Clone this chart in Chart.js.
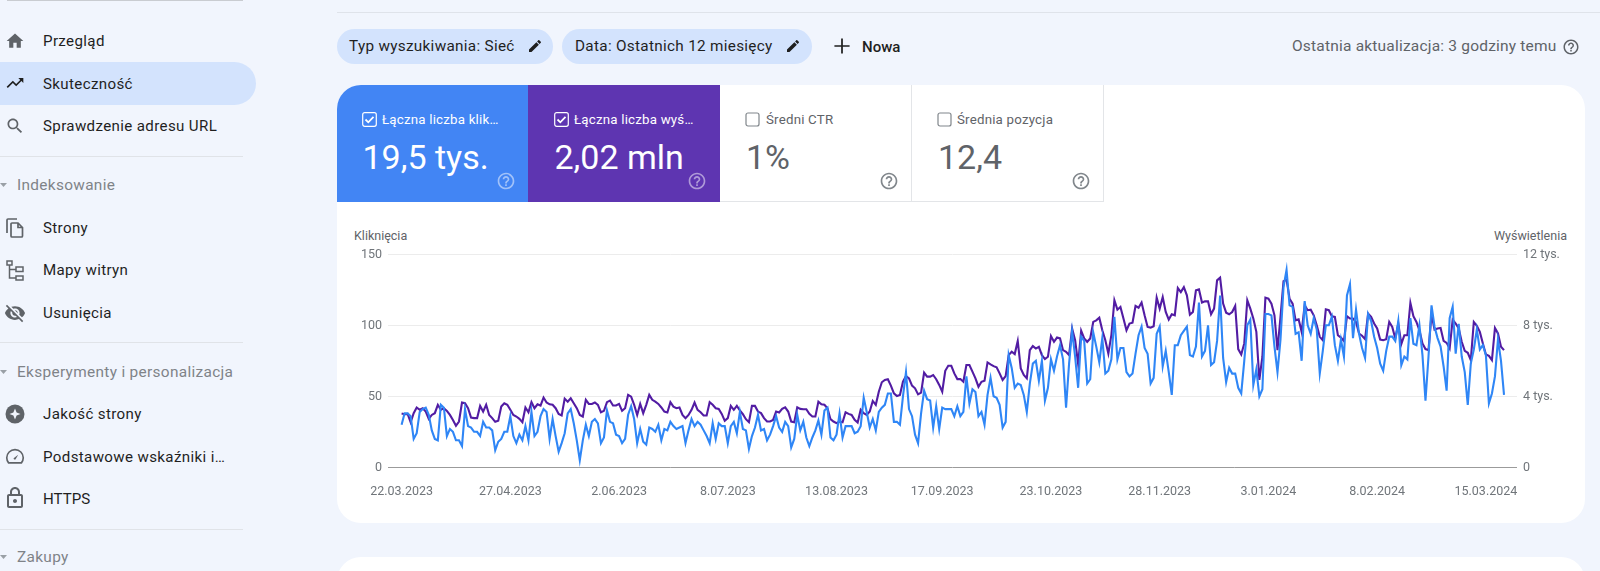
<!DOCTYPE html>
<html lang="pl"><head><meta charset="utf-8"><title>Skuteczność</title>
<script src="https://cdn.jsdelivr.net/npm/chart.js@4/dist/chart.umd.min.js"></script>
<style>
html,body{margin:0;padding:0;width:1600px;height:571px;overflow:hidden;background:#f1f5fd;font-family:Roboto,sans-serif}
.t{position:absolute;white-space:nowrap;line-height:1;transform:translateY(-50%)}
.nav{left:43px;font-size:15.1px;letter-spacing:.36px;color:#1f1f1f;margin-top:1px}
.sec{left:17px;font-size:15.4px;letter-spacing:.32px;color:#7f8388;margin-top:1px}
.sep{position:absolute;left:0;width:243px;height:1px;background:#e0e3e8}
.ic{position:absolute;fill:#5f6368}
.chip{position:absolute;top:29px;height:35px;background:#d3e3fd;border-radius:18px}
.tile{position:absolute;top:85px;height:117px;box-sizing:border-box}
.lab{font-size:13.3px;letter-spacing:.2px}
.val{font-size:34px}
.axt{font-size:12.5px;color:#5f6368}
svg{display:block}
</style></head><body>
<div style="position:absolute;left:7px;top:0;width:236px;height:1px;background:#c9ccd1"></div>
<div style="position:absolute;left:337px;right:0;top:12px;height:1px;background:#dfe3ea"></div>
<div style="position:absolute;left:0;top:62px;width:256px;height:43px;background:#d3e3fd;border-radius:0 22px 22px 0"></div>

<svg class="ic" style="left:5px;top:31px" width="20" height="20" viewBox="0 0 24 24"><path d="M10 20v-6h4v6h5v-8h3L12 3 2 12h3v8z"/></svg>
<svg class="ic" style="left:5px;top:73px;fill:#1f1f1f" width="20" height="20" viewBox="0 0 24 24"><path d="M16 6l2.29 2.29-4.88 4.88-4-4L2 16.59 3.41 18l6-6 4 4 6.3-6.29L22 12V6z"/></svg>
<svg class="ic" style="left:5px;top:116px" width="20" height="20" viewBox="0 0 24 24"><path d="M15.5 14h-.79l-.28-.27C15.41 12.59 16 11.11 16 9.5 16 5.91 13.09 3 9.5 3S3 5.91 3 9.5 5.91 16 9.5 16c1.61 0 3.09-.59 4.23-1.57l.27.28v.79l5 4.99L20.49 19l-4.99-5zm-6 0C7.01 14 5 11.99 5 9.5S7.01 5 9.5 5 14 7.01 14 9.5 11.99 14 9.5 14z"/></svg>
<svg class="ic" style="left:3px;top:216px" width="24" height="24" viewBox="0 0 24 24"><path fill="none" stroke="#5f6368" stroke-width="1.7" d="M14 3H5c-.6 0-1 .4-1 1v13M9 7h6l4.5 4.5V20c0 .6-.4 1-1 1H9c-.6 0-1-.4-1-1V8c0-.6.4-1 1-1zM15 7v4.500h4.500"/></svg>
<svg class="ic" style="left:4px;top:258px" width="24" height="24" viewBox="0 0 24 24"><path fill="none" stroke="#5f6368" stroke-width="1.5" d="M3 3h5v4H3zM5.500 7v13h6M5.500 11.500h6M12 9h7v4.500h-7zM12 18h7v4h-7z"/></svg>
<svg class="ic" style="left:4px;top:302px" width="22" height="22" viewBox="0 0 24 24"><path d="M12 7c2.760 0 5 2.240 5 5 0 .65-.13 1.260-.36 1.830l2.920 2.920c1.510-1.260 2.700-2.890 3.430-4.750-1.730-4.390-6-7.500-11-7.500-1.400 0-2.740.25-3.980.7l2.160 2.160C10.740 7.130 11.350 7 12 7zM2 4.270l2.280 2.280.46.46C3.080 8.300 1.780 10.020 1 12c1.730 4.390 6 7.500 11 7.500 1.550 0 3.030-.3 4.380-.84l.42.42L19.730 22 21 20.730 3.270 3 2 4.270zM7.530 9.800l1.550 1.550c-.05.21-.08.43-.08.65 0 1.660 1.340 3 3 3 .22 0 .44-.03.65-.08l1.550 1.550c-.67.33-1.410.53-2.200.53-2.760 0-5-2.240-5-5 0-.79.2-1.530.53-2.200zm4.310-.78l3.150 3.150.02-.16c0-1.660-1.340-3-3-3l-.17.01z"/></svg>
<svg class="ic" style="left:3px;top:402px" width="24" height="24" viewBox="0 0 24 24"><circle cx="12" cy="12" r="9.500"/><path fill="#f1f5fd" d="M12 6.500l1.600 3.900 3.900 1.600-3.900 1.600-1.600 3.900-1.600-3.900-3.900-1.600 3.900-1.600z"/></svg>
<svg class="ic" style="left:4px;top:445px" width="22" height="22" viewBox="0 0 24 24"><path fill="none" stroke="#5f6368" stroke-width="1.800" d="M5 19.500h14c1.500-1.800 2-3.800 2-5.500a9 9 0 1 0-18 0c0 1.700.5 3.700 2 5.500z"/><path d="M10.500 14.500l5-4-3 5.200a1.300 1.300 0 0 1-2-1.200z"/></svg>
<svg class="ic" style="left:3px;top:486px" width="24" height="24" viewBox="0 0 24 24"><path d="M18 8h-1V6c0-2.760-2.240-5-5-5S7 3.240 7 6v2H6c-1.100 0-2 .9-2 2v10c0 1.100.9 2 2 2h12c1.100 0 2-.9 2-2V10c0-1.100-.9-2-2-2zM9 6c0-1.660 1.340-3 3-3s3 1.340 3 3v2H9V6zm9 14H6V10h12v10zm-6-3c1.100 0 2-.9 2-2s-.9-2-2-2-2 .9-2 2 .9 2 2 2z"/></svg>
<svg class="ic" style="left:0;top:183px;fill:#9aa0a6" width="7" height="4" viewBox="0 0 7 4"><path d="M0 0h7L3.500 4z"/></svg>
<svg class="ic" style="left:0;top:370px;fill:#9aa0a6" width="7" height="4" viewBox="0 0 7 4"><path d="M0 0h7L3.500 4z"/></svg>
<svg class="ic" style="left:0;top:555px;fill:#9aa0a6" width="7" height="4" viewBox="0 0 7 4"><path d="M0 0h7L3.500 4z"/></svg>

<span class="t nav" style="top:41px">Przegląd</span>
<span class="t nav" style="top:84px">Skuteczność</span>
<span class="t nav" style="top:126px">Sprawdzenie adresu URL</span>
<div class="sep" style="top:156px"></div>
<span class="t sec" style="top:185px">Indeksowanie</span>
<span class="t nav" style="top:228px">Strony</span>
<span class="t nav" style="top:270px">Mapy witryn</span>
<span class="t nav" style="top:313px">Usunięcia</span>
<div class="sep" style="top:342px"></div>
<span class="t sec" style="top:372px">Eksperymenty i personalizacja</span>
<span class="t nav" style="top:414px">Jakość strony</span>
<span class="t nav" style="top:457px">Podstawowe wskaźniki i…</span>
<span class="t nav" style="top:499px;letter-spacing:0">HTTPS</span>
<div class="sep" style="top:529px"></div>
<span class="t sec" style="top:557px">Zakupy</span>

<div class="chip" style="left:337px;width:216px"></div>
<span class="t" style="left:349px;top:47px;font-size:15.3px;letter-spacing:.3px;color:#1f1f1f">Typ wyszukiwania: Sieć</span>
<svg class="ic" style="left:527px;top:38px;fill:#1f1f1f" width="16" height="16" viewBox="0 0 24 24"><path d="M3 17.250V21h3.750L17.810 9.940l-3.750-3.750L3 17.250zM20.710 7.040c.39-.39.39-1.020 0-1.410l-2.340-2.340c-.39-.39-1.020-.39-1.410 0l-1.830 1.830 3.750 3.750 1.830-1.830z"/></svg>
<div class="chip" style="left:562px;width:250px"></div>
<span class="t" style="left:575px;top:47px;font-size:15.3px;letter-spacing:.3px;color:#1f1f1f">Data: Ostatnich 12 miesięcy</span>
<svg class="ic" style="left:785px;top:38px;fill:#1f1f1f" width="16" height="16" viewBox="0 0 24 24"><path d="M3 17.250V21h3.750L17.810 9.940l-3.750-3.750L3 17.250zM20.710 7.040c.39-.39.39-1.020 0-1.410l-2.340-2.340c-.39-.39-1.020-.39-1.410 0l-1.830 1.830 3.750 3.750 1.830-1.830z"/></svg>
<svg class="ic" style="left:829px;top:33px;fill:#1f1f1f" width="26" height="26" viewBox="0 0 24 24"><path d="M19 12.800h-6.200V19h-1.600v-6.200H5v-1.600h6.200V5h1.600v6.200H19z"/></svg>
<span class="t" style="left:862px;top:47px;font-size:15px;font-weight:500;color:#1f1f1f">Nowa</span>
<span class="t" style="left:1292px;top:47px;font-size:15.5px;letter-spacing:.2px;color:#5f6368">Ostatnia aktualizacja: 3 godziny temu</span>
<svg class="ic" style="left:1562px;top:38px" width="18" height="18" viewBox="0 0 24 24"><path d="M11 18h2v-2h-2v2zm1-16C6.480 2 2 6.480 2 12s4.480 10 10 10 10-4.480 10-10S17.520 2 12 2zm0 18c-4.410 0-8-3.590-8-8s3.590-8 8-8 8 3.590 8 8-3.590 8-8 8zm0-14c-2.210 0-4 1.790-4 4h2c0-1.100.9-2 2-2s2 .9 2 2c0 2-3 1.750-3 5h2c0-2.250 3-2.500 3-5 0-2.210-1.790-4-4-4z"/></svg>

<div style="position:absolute;left:337px;top:85px;width:1248px;height:438px;background:#fff;border-radius:24px"></div>
<div style="position:absolute;left:337px;top:557px;width:1248px;height:40px;background:#fff;border-radius:24px 24px 0 0"></div>

<div class="tile" style="left:337px;width:191px;background:#4285f4;border-radius:24px 0 0 0"></div>
<div class="tile" style="left:528px;width:192px;background:#5e35b1"></div>
<div class="tile" style="left:720px;width:192px;border-right:1px solid #e3e5e8;border-bottom:1px solid #e3e5e8"></div>
<div class="tile" style="left:912px;width:192px;border-right:1px solid #e3e5e8;border-bottom:1px solid #e3e5e8"></div>

<svg style="position:absolute;left:362px;top:112px" width="15" height="15" viewBox="0 0 15 15"><rect x=".7" y=".7" width="13.600" height="13.600" rx="2" fill="none" stroke="#fff" stroke-width="1.200"/><path d="M3.500 7.500l2.800 2.800 5.200-5.400" fill="none" stroke="#fff" stroke-width="1.800"/></svg>
<svg style="position:absolute;left:554px;top:112px" width="15" height="15" viewBox="0 0 15 15"><rect x=".7" y=".7" width="13.600" height="13.600" rx="2" fill="none" stroke="#fff" stroke-width="1.200"/><path d="M3.500 7.500l2.800 2.800 5.200-5.400" fill="none" stroke="#fff" stroke-width="1.800"/></svg>
<svg style="position:absolute;left:745px;top:112px" width="15" height="15" viewBox="0 0 15 15"><rect x="1" y="1" width="13" height="13" rx="2" fill="none" stroke="#80868b" stroke-width="1.200"/></svg>
<svg style="position:absolute;left:937px;top:112px" width="15" height="15" viewBox="0 0 15 15"><rect x="1" y="1" width="13" height="13" rx="2" fill="none" stroke="#80868b" stroke-width="1.200"/></svg>

<span class="t lab" style="left:382px;top:120px;color:#fff">Łączna liczba klik…</span>
<span class="t lab" style="left:574px;top:120px;color:#fff">Łączna liczba wyś…</span>
<span class="t lab" style="left:766px;top:120px;color:#5f6368">Średni CTR</span>
<span class="t lab" style="left:957px;top:120px;color:#5f6368">Średnia pozycja</span>
<span class="t val" style="left:362.500px;top:157px;color:#fff">19,5 tys.</span>
<span class="t val" style="left:554.500px;top:157px;color:#fff">2,02 mln</span>
<span class="t val" style="left:746px;top:157px;color:#5f6368">1%</span>
<span class="t val" style="left:938px;top:157px;color:#5f6368">12,4</span>
<svg class="ic" style="left:496px;top:171px;fill:#ffffff80" width="20" height="20" viewBox="0 0 24 24"><path d="M11 18h2v-2h-2v2zm1-16C6.480 2 2 6.480 2 12s4.480 10 10 10 10-4.480 10-10S17.520 2 12 2zm0 18c-4.410 0-8-3.590-8-8s3.590-8 8-8 8 3.590 8 8-3.590 8-8 8zm0-14c-2.210 0-4 1.790-4 4h2c0-1.100.9-2 2-2s2 .9 2 2c0 2-3 1.750-3 5h2c0-2.250 3-2.500 3-5 0-2.210-1.790-4-4-4z"/></svg>
<svg class="ic" style="left:687px;top:171px;fill:#ffffff80" width="20" height="20" viewBox="0 0 24 24"><path d="M11 18h2v-2h-2v2zm1-16C6.480 2 2 6.480 2 12s4.480 10 10 10 10-4.480 10-10S17.520 2 12 2zm0 18c-4.410 0-8-3.590-8-8s3.590-8 8-8 8 3.590 8 8-3.590 8-8 8zm0-14c-2.210 0-4 1.790-4 4h2c0-1.100.9-2 2-2s2 .9 2 2c0 2-3 1.750-3 5h2c0-2.250 3-2.500 3-5 0-2.210-1.790-4-4-4z"/></svg>
<svg class="ic" style="left:879px;top:171px;fill:#80868b" width="20" height="20" viewBox="0 0 24 24"><path d="M11 18h2v-2h-2v2zm1-16C6.480 2 2 6.480 2 12s4.480 10 10 10 10-4.480 10-10S17.520 2 12 2zm0 18c-4.410 0-8-3.590-8-8s3.590-8 8-8 8 3.590 8 8-3.590 8-8 8zm0-14c-2.210 0-4 1.790-4 4h2c0-1.100.9-2 2-2s2 .9 2 2c0 2-3 1.750-3 5h2c0-2.250 3-2.500 3-5 0-2.210-1.790-4-4-4z"/></svg>
<svg class="ic" style="left:1071px;top:171px;fill:#80868b" width="20" height="20" viewBox="0 0 24 24"><path d="M11 18h2v-2h-2v2zm1-16C6.480 2 2 6.480 2 12s4.480 10 10 10 10-4.480 10-10S17.520 2 12 2zm0 18c-4.410 0-8-3.590-8-8s3.590-8 8-8 8 3.590 8 8-3.590 8-8 8zm0-14c-2.210 0-4 1.790-4 4h2c0-1.100.9-2 2-2s2 .9 2 2c0 2-3 1.750-3 5h2c0-2.250 3-2.500 3-5 0-2.210-1.790-4-4-4z"/></svg>

<span class="t axt" style="left:354px;top:236px">Kliknięcia</span>
<span class="t axt" style="right:33px;top:236px">Wyświetlenia</span>

<div style="position:absolute;left:337px;top:240px;width:1230px;height:262px"><canvas id="c"></canvas></div>
<script>
const tickIndexes = [0,36,72,108,144,179,215,251,287,323,359];
const tickLabels = ['22.03.2023','27.04.2023','2.06.2023','8.07.2023','13.08.2023','17.09.2023','23.10.2023','28.11.2023','3.01.2024','8.02.2024','15.03.2024'];
const leftTicks = [0,50,100,150];
const rightTicks = [0,4000,8000,12000];
const rightTickLabels = ['0','4 tys.','8 tys.','12 tys.'];

const clicks = [
30,38,38,36,20,24,39,41,42,37,26,20,19,44,42,22,27,25,19,19,
15,41,29,28,25,25,22,32,28,28,26,12,18,20,25,25,36,22,17,
23,19,29,19,39,22,25,36,41,39,20,34,22,11,17,24,38,41,31,19,
5,19,30,22,32,34,31,17,21,40,32,31,23,22,17,20,37,43,34,17,
27,18,16,28,27,25,30,19,27,26,32,29,27,28,29,17,26,34,29,32,
30,26,22,17,31,20,31,29,29,17,29,32,24,39,27,26,13,22,28,37,
26,27,19,
23,29,36,28,25,32,29,14,20,37,
26,32,21,15,21,26,33,23,40,42,
21,19,23,38,21,29,29,29,24,25,
29,49,39,28,34,26,39,42,44,52,
52,32,32,30,50,67,41,36,23,17,
38,54,48,47,28,43,27,42,41,41,
41,36,43,36,39,64,45,55,53,36,
39,30,51,63,50,49,44,28,32,79,
70,56,59,58,51,39,59,73,75,61,
75,47,56,76,68,78,86,76,42,73,
96,78,56,92,89,59,62,95,85,74,
91,66,68,76,106,76,84,84,67,64,
66,80,93,99,84,80,
59,63,94,99,71,82,67,51,86,86,
93,96,99,79,78,85,116,78,82,100,
72,74,89,121,77,60,70,66,66,56,
52,75,100,104,58,69,50,55,108,108,
107,85,67,90,127,139,114,113,94,95,
75,117,100,94,105,97,66,82,100,100,
106,86,75,90,78,121,129,91,111,94,
84,77,108,103,92,84,73,68,82,92,
92,89,103,72,78,76,105,87,86,100,
79,47,78,114,99,91,85,71,54,105,
113,80,101,78,67,44,73,83,97,83,
86,79,45,52,64,90,75,51];

const impressions = [
3030,2990,3010,2540,3050,3370,3240,3330,3140,2730,
2950,3050,3520,3240,3330,3180,2950,2670,2340,2580,
3650,3610,3330,2800,2770,2770,3460,3140,3520,2950,
2770,2560,2620,3420,3610,3520,3240,2950,2860,2730,
2540,3370,3100,3670,3330,3550,3480,3930,3650,3550,
3520,3330,3010,2920,3870,3700,3890,3610,3330,2950,
2860,3800,3570,3570,3650,3520,3100,3180,3670,3760,
3480,3480,3570,3180,3330,4080,3980,3520,2950,3570,
3050,3520,4080,3800,3700,3570,3370,3140,3090,3670,
3420,3330,3370,2950,2770,2950,3240,3650,3240,3100,
2920,2920,3670,3520,3330,3290,3010,2620,2770,
3460,3240,3460,3200,2990,2710,2540,3460,3460,3140,
3050,2770,2580,
2580,2670,3140,3090,3290,3380,3140,2580,2540,3380,
3290,3270,3270,3010,2860,2860,3700,3550,3520,3330,
2710,2580,2490,2580,2540,3100,3010,2950,2670,2520,
3240,3050,2950,3140,3740,3520,4260,4790,4920,4960,
4600,4170,4020,4080,4820,5140,5010,4600,4450,4110,
4210,5330,5110,5110,5200,4960,4640,4260,5440,5720,
5720,5290,4970,4970,4820,5760,5760,5390,5010,4540,
4820,4880,5910,5800,5700,5630,5290,4920,5140,6320,
6510,6380,7120,5570,5200,5010,6600,6830,6690,6790,
6320,6100,6230,7390,7070,7310,7260,6600,6510,6320,
7820,7160,5820,7690,7260,7070,7260,8190,8280,8430,
7720,7160,6410,7440,9410,8880,9030,8380,7720,8100,
8150,9090,8990,9280,8560,7910,7870,
7950,
9560,8940,9590,8750,8320,8620,8560,10100,9870,
10150,9690,8600,8750,9970,10020,9280,9350,9350,8620,
8940,10530,10680,9220,8710,8620,8750,9090,6660,6360,
6980,9410,8940,8380,7630,4920,6230,9560,9500,9220,
8560,6600,8470,10490,10570,9500,9220,8280,8340,7630,
9130,8850,8880,8560,8000,7350,7160,8900,8850,8510,
8470,7440,7310,7110,8510,8380,8380,8190,7540,7410,
7220,8660,8470,8100,7820,7200,7160,7220,8190,7910,
7260,8100,6940,7440,7440,9260,8510,8190,7720,6980,
6660,6600,8620,7760,7820,7850,7120,7010,6690,8320,
8100,7820,7070,6560,6450,6040,8190,7970,7630,6980,
6360,6280,6040,7850,7540,6790,6600];

const toPoints = arr => arr.map((v,i)=>({x:i,y:v}));
const grey = '#70757a';
const font = {family:'Roboto',size:12.5};

new Chart(document.getElementById('c'),{
  type:'line',
  data:{datasets:[
    {label:'Kliknięcia',data:toPoints(clicks),yAxisID:'y',borderColor:'#2f86f6',borderWidth:2.1},
    {label:'Wyświetlenia',data:toPoints(impressions),yAxisID:'y2',borderColor:'#521ca3',borderWidth:2.1}
  ]},
  options:{
    responsive:true,maintainAspectRatio:false,animation:false,
    layout:{padding:{top:14.3,bottom:0,left:0,right:0}},
    elements:{point:{radius:0},line:{tension:0}},
    plugins:{legend:{display:false},tooltip:{enabled:false}},
    scales:{
      x:{type:'linear',min:-4.5,max:369.3,
        grid:{display:false},border:{display:false},
        afterBuildTicks:s=>{s.ticks=tickIndexes.map(v=>({value:v}));},
        afterFit:s=>{s.height=34.7;},
        ticks:{autoSkip:false,maxRotation:0,padding:9,color:grey,font,
          callback:v=>tickLabels[tickIndexes.indexOf(v)]}},
      y:{position:'left',min:0,max:150,
        afterBuildTicks:s=>{s.ticks=leftTicks.map(v=>({value:v}));},
        afterFit:s=>{s.width=51;},
        border:{display:false},
        grid:{drawTicks:false,lineWidth:1,color:c=>c.tick.value===0?'#9b9b9b':'#ececec'},
        ticks:{padding:6,labelOffset:1,color:grey,font}},
      y2:{position:'right',min:0,max:12000,
        afterBuildTicks:s=>{s.ticks=rightTicks.map(v=>({value:v}));},
        afterFit:s=>{s.width=50;},
        border:{display:false},grid:{display:false,drawTicks:false},
        ticks:{padding:6,labelOffset:1,color:grey,font,
          callback:v=>rightTickLabels[rightTicks.indexOf(v)]}}
    }
  }
});
</script>
</body></html>
